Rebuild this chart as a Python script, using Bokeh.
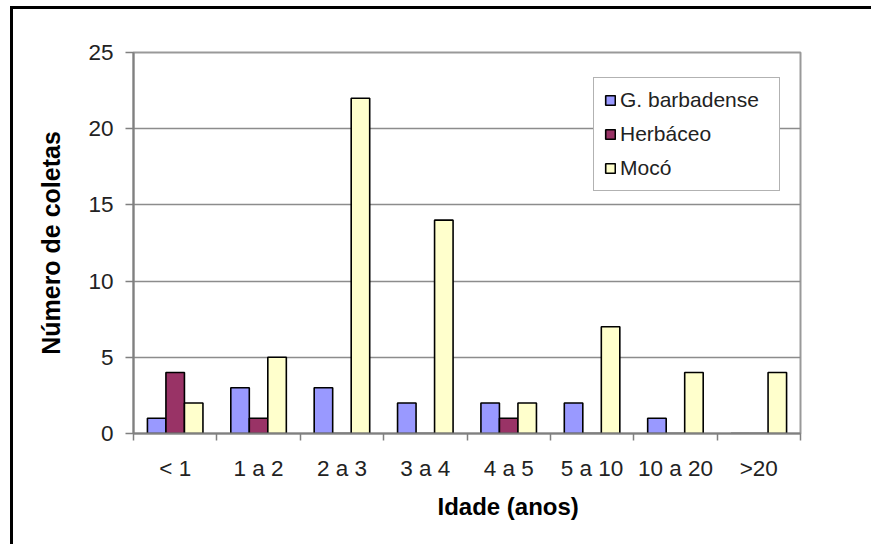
from bokeh.plotting import figure
from bokeh.models import Range1d, FixedTicker, ColumnDataSource, Legend, LegendItem, Title
from bokeh.transform import dodge
from bokeh.embed import file_html
from bokeh.resources import INLINE

categories = ["< 1", "1 a 2", "2 a 3", "3 a 4", "4 a 5", "5 a 10", "10 a 20", ">20"]
g_barbadense = [1, 3, 3, 2, 2, 2, 1, 0]
herbaceo = [4, 1, 0, 0, 1, 0, 0, 0]
moco = [2, 5, 22, 14, 2, 7, 4, 4]
series_names = ["G. barbadense", "Herbáceo", "Mocó"]
colors = ["#9999FF", "#993366", "#FFFFCC"]
y_ticks = [0, 5, 10, 15, 20, 25]
x_title = "Idade (anos)"
y_title = "Número de coletas"

FONT = "Liberation Sans"
n = len(categories)
xs = list(range(n))
src = ColumnDataSource(dict(x=xs, g=g_barbadense, h=herbaceo, m=moco))

p = figure(width=861, height=538,
           x_range=Range1d(-0.5, n - 0.5), y_range=Range1d(0, 25),
           output_backend="svg", toolbar_location=None,
           min_border_left=120, min_border_right=74,
           min_border_top=43, min_border_bottom=114)
p.styles = {"border-top": "3px solid black", "border-left": "3px solid black",
            "margin-left": "10px", "margin-top": "6px"}

bw = 0.222
renderers = []
for col, off, c in zip(["g", "h", "m"], [-bw, 0.0, bw], colors):
    r = p.vbar(x=dodge("x", off, range=p.x_range), top=col, width=bw, source=src,
               fill_color=c, line_color="black", line_width=1.6)
    renderers.append(r)

# grid
p.xgrid.visible = False
p.ygrid.ticker = FixedTicker(ticks=y_ticks)
p.ygrid.grid_line_color = "#8c8c8c"
p.ygrid.grid_line_width = 1.5

p.outline_line_color = "#999999"
p.outline_line_width = 2

# y axis
ya = p.yaxis[0]
ya.ticker = FixedTicker(ticks=y_ticks)
ya.axis_line_color = "#808080"
ya.axis_line_width = 2
ya.major_tick_line_color = "#808080"
ya.major_tick_line_width = 1.5
ya.major_tick_out = 8
ya.major_tick_in = 0
ya.minor_tick_line_color = None
ya.major_label_text_font = FONT
ya.major_label_text_font_size = "22.5px"
ya.major_label_text_color = "#222222"
ya.major_label_standoff = 12
ya.axis_label = y_title
ya.axis_label_text_font = FONT
ya.axis_label_text_font_style = "bold"
ya.axis_label_text_font_size = "25px"
ya.axis_label_text_color = "black"
ya.axis_label_standoff = 20

# x axis: labels at category centres, tick marks at boundaries
xa = p.xaxis[0]
xa.ticker = FixedTicker(ticks=xs, minor_ticks=[i - 0.5 for i in range(n + 1)])
xa.major_label_overrides = {i: c for i, c in enumerate(categories)}
xa.axis_line_color = "#808080"
xa.axis_line_width = 2
xa.major_tick_out = 0
xa.major_tick_in = 0
xa.major_tick_line_color = None
xa.minor_tick_line_color = "#808080"
xa.minor_tick_line_width = 1.5
xa.minor_tick_out = 7
xa.minor_tick_in = 0
xa.major_label_text_font = FONT
xa.major_label_text_font_size = "22.5px"
xa.major_label_text_color = "#222222"
xa.major_label_standoff = 15

p.add_layout(Title(text=x_title, align="left", offset=304, vertical_align="top",
                   standoff=18, text_font=FONT, text_font_style="bold",
                   text_font_size="24px", text_color="black"), "below")

legend = Legend(items=[LegendItem(label=nm, renderers=[r]) for nm, r in zip(series_names, renderers)],
                location=(460, 242))
legend.label_text_font = FONT
legend.label_text_font_size = "21px"
legend.label_text_color = "#222222"
legend.glyph_width = 12
legend.glyph_height = 12
legend.label_height = 24
legend.label_width = 149
legend.label_standoff = 4
legend.spacing = 10
legend.padding = 10
legend.margin = 0
legend.border_line_color = "#666666"
legend.border_line_width = 1.5
legend.background_fill_color = "white"
legend.background_fill_alpha = 1
p.add_layout(legend, "center")

open("out.html", "w").write(file_html(p, INLINE))
